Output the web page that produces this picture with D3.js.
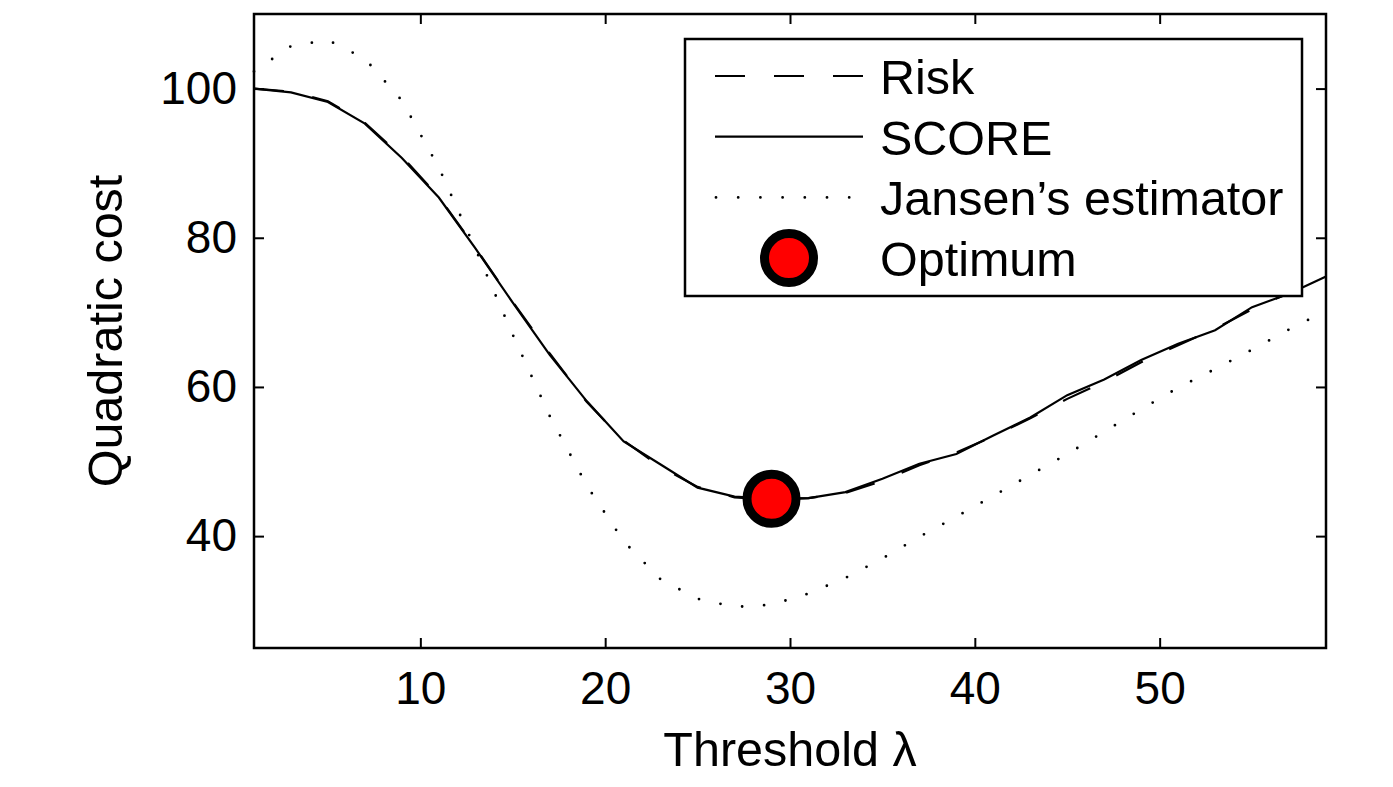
<!DOCTYPE html>
<html>
<head>
<meta charset="utf-8">
<script src="https://cdn.jsdelivr.net/npm/d3@7"></script>
<style>
  body { margin: 0; background: #fff; }
  text { font-family: "Liberation Sans", Arial, Helvetica, sans-serif; fill: #000; }
</style>
</head>
<body>
<div id="chart"></div>
<script>
// thresholds (lambda), sampled every 2
var lambdas = [1, 3, 5, 7, 9, 11, 13, 15, 17, 19, 21, 23, 25, 27, 29, 31, 33, 35, 37, 39, 41, 43, 45, 47, 49, 51, 53, 55, 57, 59];
var risk = [100.0, 99.6, 98.3, 95.4, 90.9, 85.5, 78.6, 71.4, 64.5, 58.0, 52.8, 49.3, 46.6, 45.2, 44.9, 45.1, 45.8, 47.4, 49.5, 51.2, 53.4, 55.8, 58.4, 60.7, 63.3, 65.6, 67.8, 70.4, 72.6, 74.9];
var score = [100.0, 99.5, 98.2, 95.3, 90.7, 85.4, 78.5, 71.3, 64.3, 58.1, 52.7, 49.6, 46.5, 45.3, 45.0, 45.1, 45.9, 47.7, 49.7, 51.0, 53.5, 55.9, 58.9, 61.0, 63.6, 65.8, 67.6, 70.7, 72.5, 74.8];
var jansen = [102.3, 105.7, 106.5, 104.0, 98.4, 89.4, 78.4, 67.0, 56.1, 46.8, 39.3, 34.2, 31.6, 30.5, 30.8, 32.3, 34.4, 37.0, 39.9, 42.6, 45.4, 48.2, 51.0, 54.0, 57.0, 59.9, 62.4, 65.0, 67.7, 70.2];
var optimum = [29, 45.0];

var xTicks = [10, 20, 30, 40, 50];
var yTicks = [40, 60, 80, 100];
var legendLabels = ["Risk", "SCORE", "Jansen\u2019s estimator", "Optimum"];

var W = 1393, H = 787;
var pLeft = 254, pRight = 1326, pTop = 14, pBottom = 648;
var tickFont = 46, labelFont = 48.5;

var svg = d3.select("#chart").append("svg").attr("width", W).attr("height", H);

var x = d3.scaleLinear().domain([1, 59]).range([pLeft, pRight]);
var y = d3.scaleLinear().domain([25, 110]).range([pBottom, pTop]);

var line = function (vals) {
    return d3.line()
        .x(function (d, i) { return x(lambdas[i]); })
        .y(function (d) { return y(d); })(vals);
};

// ticks pointing inward on all four sides
function styleAxis(g) {
    g.select(".domain").remove();
    g.selectAll(".tick line").attr("stroke", "#000").attr("stroke-width", 2);
    g.selectAll(".tick text").style("font-size", tickFont + "px").attr("fill", "#000");
}
svg.append("g").attr("transform", "translate(0," + pBottom + ")")
    .call(d3.axisBottom(x).tickValues(xTicks).tickSize(-10).tickPadding(23))
    .call(styleAxis);
svg.append("g").attr("transform", "translate(0," + pTop + ")")
    .call(d3.axisTop(x).tickValues(xTicks).tickSize(-10).tickFormat(""))
    .call(styleAxis);
svg.append("g").attr("transform", "translate(" + pLeft + ",0)")
    .call(d3.axisLeft(y).tickValues(yTicks).tickSize(-10).tickPadding(17))
    .call(styleAxis);
svg.append("g").attr("transform", "translate(" + pRight + ",0)")
    .call(d3.axisRight(y).tickValues(yTicks).tickSize(-10).tickFormat(""))
    .call(styleAxis);

// curves
svg.append("path").attr("d", line(jansen))
    .attr("fill", "none").attr("stroke", "#000").attr("stroke-width", 2.8)
    .attr("stroke-linecap", "round").attr("stroke-dasharray", "0,22");
svg.append("path").attr("d", line(risk))
    .attr("fill", "none").attr("stroke", "#000").attr("stroke-width", 2.2)
    .attr("stroke-dasharray", "30,29");
svg.append("path").attr("d", line(score))
    .attr("fill", "none").attr("stroke", "#000").attr("stroke-width", 2.2);

svg.append("circle")
    .attr("cx", x(optimum[0])).attr("cy", y(optimum[1])).attr("r", 24.5)
    .attr("fill", "#ff0000").attr("stroke", "#000").attr("stroke-width", 9);

// frame
svg.append("rect").attr("x", pLeft).attr("y", pTop)
    .attr("width", pRight - pLeft).attr("height", pBottom - pTop)
    .attr("fill", "none").attr("stroke", "#000").attr("stroke-width", 2.5);

// axis titles
svg.append("text").attr("x", (pLeft + pRight) / 2).attr("y", 766)
    .attr("text-anchor", "middle").style("font-size", labelFont + "px")
    .text("Threshold \u03bb");
svg.append("text").attr("transform", "translate(122," + (pTop + pBottom) / 2 + ") rotate(-90)")
    .attr("text-anchor", "middle").style("font-size", labelFont + "px")
    .text("Quadratic cost");

// legend
var lg = svg.append("g");
lg.append("rect").attr("x", 685).attr("y", 39).attr("width", 617).attr("height", 257)
    .attr("fill", "#fff").attr("stroke", "#000").attr("stroke-width", 2.5);
var rowY = function (i) { return 76 + i * 60.7; };
lg.append("line").attr("x1", 715).attr("x2", 863).attr("y1", rowY(0)).attr("y2", rowY(0))
    .attr("stroke", "#000").attr("stroke-width", 2.2).attr("stroke-dasharray", "30,29");
lg.append("line").attr("x1", 715).attr("x2", 863).attr("y1", rowY(1)).attr("y2", rowY(1))
    .attr("stroke", "#000").attr("stroke-width", 2.2);
lg.append("line").attr("x1", 716).attr("x2", 863).attr("y1", rowY(2)).attr("y2", rowY(2))
    .attr("stroke", "#000").attr("stroke-width", 2.8).attr("stroke-linecap", "round")
    .attr("stroke-dasharray", "0,22.2");
lg.append("circle").attr("cx", 789).attr("cy", rowY(3)).attr("r", 24.5)
    .attr("fill", "#ff0000").attr("stroke", "#000").attr("stroke-width", 9);
lg.selectAll("text.lab").data(legendLabels).enter().append("text")
    .attr("class", "lab")
    .attr("x", 880)
    .attr("y", function (d, i) { return rowY(i) + 18; })
    .style("font-size", labelFont + "px")
    .text(function (d) { return d; });
</script>
</body>
</html>
